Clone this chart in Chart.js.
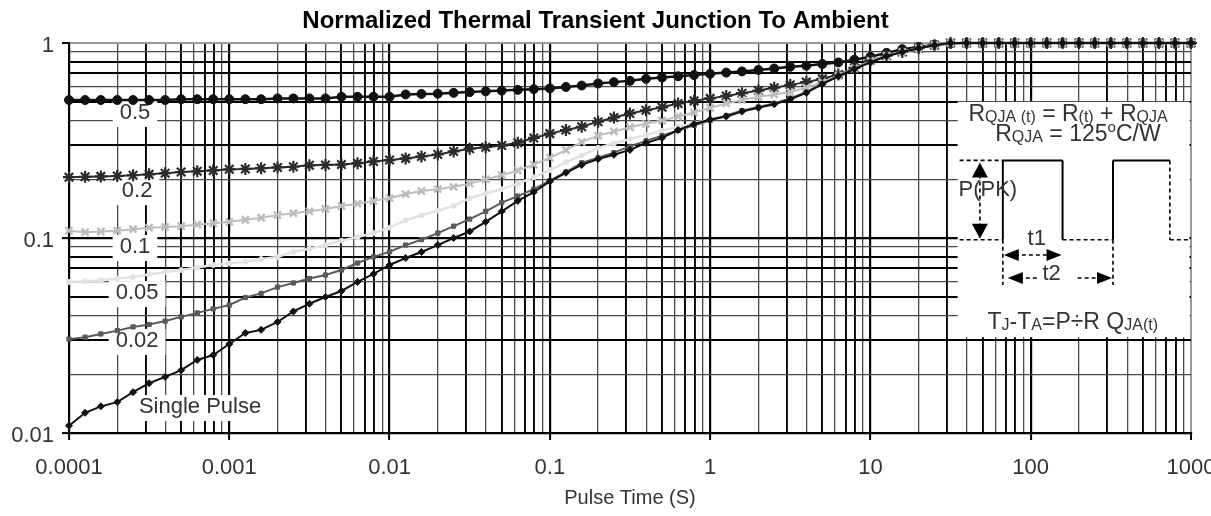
<!DOCTYPE html>
<html>
<head>
<meta charset="utf-8">
<script src="https://cdn.jsdelivr.net/npm/chart.js@4.4.1/dist/chart.umd.min.js"></script>
<style>
  html, body { margin: 0; padding: 0; background: #fff; }
</style>
</head>
<body>
<canvas id="myChart" width="1211" height="516"></canvas>
<script>
// pulse time (s), read at ~0.1 decade steps like the markers in the picture
const pulseTime = [
  0.0001, 0.000126, 0.000158, 0.0002, 0.000251, 0.000316, 0.000398, 0.000501, 0.000631, 0.000794,
  0.001, 0.00126, 0.00158, 0.002, 0.00251, 0.00316, 0.00398, 0.00501, 0.00631, 0.00794,
  0.01, 0.0126, 0.0158, 0.02, 0.0251, 0.0316, 0.0398, 0.0501, 0.0631, 0.0794,
  0.1, 0.126, 0.158, 0.2, 0.251, 0.316, 0.398, 0.501, 0.631, 0.794,
  1, 1.26, 1.58, 2, 2.51, 3.16, 3.98, 5.01, 6.31, 7.94,
  10, 12.6, 15.8, 20, 25.1, 31.6, 39.8, 50.1, 63.1, 79.4,
  100, 126, 158, 200, 251, 316, 398, 501, 631, 794,
  1000
];

const duty05 = [
  0.51, 0.51, 0.51, 0.51, 0.51, 0.51, 0.51, 0.515, 0.515, 0.515,
  0.515, 0.515, 0.515, 0.52, 0.52, 0.52, 0.52, 0.53, 0.53, 0.53,
  0.53, 0.545, 0.548, 0.55, 0.555, 0.56, 0.565, 0.57, 0.575, 0.58,
  0.585, 0.595, 0.605, 0.62, 0.63, 0.64, 0.655, 0.665, 0.675, 0.685,
  0.695, 0.705, 0.715, 0.727, 0.74, 0.755, 0.765, 0.78, 0.795, 0.82,
  0.85, 0.89, 0.93, 0.955, 0.98, 0.995, 1, 1, 1, 1,
  1, 1, 1, 1, 1, 1, 1, 1, 1, 1,
  1
];
const duty02 = [
  0.205, 0.206, 0.207, 0.208, 0.21, 0.212, 0.215, 0.218, 0.22, 0.222,
  0.225, 0.226, 0.228, 0.23, 0.232, 0.236, 0.237, 0.238, 0.242, 0.247,
  0.251, 0.256, 0.262, 0.268, 0.278, 0.287, 0.292, 0.298, 0.308, 0.326,
  0.343, 0.358, 0.372, 0.395, 0.415, 0.435, 0.452, 0.468, 0.49, 0.505,
  0.52, 0.535, 0.553, 0.57, 0.59, 0.61, 0.63, 0.655, 0.69, 0.745,
  0.815, 0.86, 0.9, 0.94, 0.975, 1, 1, 1, 1, 1,
  1, 1, 1, 1, 1, 1, 1, 1, 1, 1,
  1
];
const duty01 = [
  0.109, 0.107, 0.108, 0.109, 0.111, 0.113, 0.114, 0.115, 0.117, 0.119,
  0.121, 0.124, 0.127, 0.131, 0.134, 0.137, 0.141, 0.146, 0.15, 0.155,
  0.16, 0.168, 0.174, 0.178, 0.183, 0.19, 0.2, 0.21, 0.222, 0.238,
  0.258, 0.282, 0.31, 0.335, 0.352, 0.37, 0.385, 0.4, 0.42, 0.44,
  0.465, 0.49, 0.51, 0.53, 0.545, 0.56, 0.59, 0.63, 0.68, 0.74,
  0.81, 0.86, 0.9, 0.94, 0.975, 1, 1, 1, 1, 1,
  1, 1, 1, 1, 1, 1, 1, 1, 1, 1,
  1
];
const duty005 = [
  0.0595, 0.06, 0.0605, 0.062, 0.063, 0.065, 0.067, 0.0685, 0.0705, 0.0727,
  0.074, 0.0755, 0.078, 0.08, 0.0848, 0.088, 0.092, 0.097, 0.101, 0.106,
  0.113, 0.123, 0.131, 0.138, 0.146, 0.16, 0.169, 0.178, 0.19, 0.205,
  0.223, 0.245, 0.265, 0.29, 0.305, 0.322, 0.338, 0.355, 0.372, 0.388,
  0.405, 0.425, 0.45, 0.47, 0.49, 0.52, 0.56, 0.62, 0.68, 0.74,
  0.8, 0.86, 0.9, 0.94, 0.975, 1, 1, 1, 1, 1,
  1, 1, 1, 1, 1, 1, 1, 1, 1, 1,
  1
];
const duty002 = [
  0.0303, 0.031, 0.0322, 0.0335, 0.035, 0.036, 0.0375, 0.0394, 0.0413, 0.0433,
  0.0453, 0.0495, 0.052, 0.056, 0.0588, 0.062, 0.0646, 0.0685, 0.0744, 0.08,
  0.085, 0.092, 0.098, 0.106, 0.115, 0.125, 0.137, 0.152, 0.164, 0.178,
  0.197, 0.218, 0.243, 0.258, 0.274, 0.295, 0.315, 0.335, 0.356, 0.378,
  0.4, 0.425, 0.45, 0.47, 0.49, 0.52, 0.56, 0.62, 0.68, 0.74,
  0.8, 0.86, 0.9, 0.94, 0.975, 1, 1, 1, 1, 1,
  1, 1, 1, 1, 1, 1, 1, 1, 1, 1,
  1
];
const singlePulse = [
  0.0109, 0.0127, 0.0137, 0.0144, 0.0162, 0.018, 0.0194, 0.021, 0.0237, 0.0251,
  0.0286, 0.0326, 0.0338, 0.0371, 0.042, 0.046, 0.0498, 0.0535, 0.0595, 0.0654,
  0.0727, 0.079, 0.0848, 0.092, 0.1, 0.108, 0.121, 0.137, 0.155, 0.172,
  0.195, 0.216, 0.237, 0.254, 0.267, 0.283, 0.307, 0.326, 0.358, 0.384,
  0.405, 0.42, 0.445, 0.465, 0.485, 0.515, 0.555, 0.615, 0.675, 0.735,
  0.795, 0.855, 0.9, 0.94, 0.975, 1, 1, 1, 1, 1,
  1, 1, 1, 1, 1, 1, 1, 1, 1, 1,
  1
];

const seriesNames = ['0.5', '0.2', '0.1', '0.05', '0.02', 'Single Pulse'];
const seriesValues = [duty05, duty02, duty01, duty005, duty002, singlePulse];

const xDecades = [0.0001, 0.001, 0.01, 0.1, 1, 10, 100, 1000];
const xTickLabels = ['0.0001', '0.001', '0.01', '0.1', '1', '10', '100', '1000'];
const yDecades = [0.01, 0.1, 1];
const yTickLabels = ['0.01', '0.1', '1'];

const FONT = 'Arial, "Liberation Sans", Helvetica, sans-serif';

// look of each curve
const seriesStyles = [
  { color: '#111111', width: 2.5, point: 'circle', r: 4.5, pw: 1 },
  { color: '#2b2b2b', width: 2, point: 'star', r: 6, pw: 2.2 },
  { color: '#bdbdbd', width: 2, point: 'crossRot', r: 5, pw: 2.5 },
  { color: '#e2e2e2', width: 2.5, point: 'circle', r: 2.5, pw: 1 },
  { color: '#5a5a5a', width: 2, point: 'rect', r: 3, pw: 1 },
  { color: '#111111', width: 2, point: 'rectRot', r: 3.5, pw: 1 }
];

// where the duty cycle labels sit (data units)
const labelSpots = [
  { t: 0.000258, v: 0.443 },
  { t: 0.000266, v: 0.176 },
  { t: 0.000258, v: 0.091 },
  { t: 0.000266, v: 0.0528 },
  { t: 0.000266, v: 0.030 },
  { t: 0.000657, v: 0.01375 }
];

// inset with formulas and the pulse train (data units)
const inset = {
  left: 35, top: 0.5, bottom: 0.031,
  base: 0.098, peak: 0.25,
  rise1: 67, fall1: 158, rise2: 326, fall2: 738,
  arrowP: 48.2, textP: { t: 54, v: 0.176 },
  t1y: 0.0818, t2y: 0.0624, dropTo: 0.0574,
  t1Text: { t: 109, v: 0.099 }, t2Text: { t: 135, v: 0.0655 }
};

function isDecade(v) {
  const l = Math.log10(v);
  return Math.abs(l - Math.round(l)) < 1e-6;
}
function mult(v) {
  return Math.round(v / Math.pow(10, Math.floor(Math.log10(v) + 1e-9)));
}
function gridValues(decades) {
  let out = [];
  for (let i = 0; i < decades.length; i++) {
    out.push(decades[i]);
    if (i < decades.length - 1) {
      for (let m = 2; m <= 9; m++) out.push(+(decades[i] * m).toPrecision(3));
    }
  }
  return out;
}
function labelFor(v, decades, labels) {
  const i = decades.findIndex(d => Math.abs(d - v) / d < 1e-6);
  return i >= 0 ? labels[i] : '';
}
function gridColor(edge) {
  return c => {
    if (!c.tick) return '#000';
    const v = c.tick.value;
    if (Math.abs(v - edge) / edge < 1e-6) return '#9a9a9a';
    if (isDecade(v)) return '#000';
    return [3, 5, 7, 8].includes(mult(v)) ? '#000' : '#4a4a4a';
  };
}
function gridWidth(edge) {
  return c => {
    if (!c.tick) return 1.5;
    const v = c.tick.value;
    if (Math.abs(v - edge) / edge < 1e-6) return 2;
    if (isDecade(v)) return 2.2;
    return [3, 5, 7, 8].includes(mult(v)) ? 1.9 : 1.3;
  };
}
function tickColor(c) {
  return c.tick && isDecade(c.tick.value) ? '#000' : 'rgba(0,0,0,0)';
}

function arrowHead(ctx, x, y, dir, len, half) {
  ctx.beginPath();
  ctx.moveTo(x, y);
  if (dir === 'up') { ctx.lineTo(x - half, y + len); ctx.lineTo(x + half, y + len); }
  if (dir === 'down') { ctx.lineTo(x - half, y - len); ctx.lineTo(x + half, y - len); }
  if (dir === 'left') { ctx.lineTo(x + len, y - half); ctx.lineTo(x + len, y + half); }
  if (dir === 'right') { ctx.lineTo(x - len, y - half); ctx.lineTo(x - len, y + half); }
  ctx.closePath();
  ctx.fill();
}
function seg(ctx, x1, y1, x2, y2, dashed) {
  ctx.setLineDash(dashed ? [4, 3] : []);
  ctx.beginPath();
  ctx.moveTo(x1, y1);
  ctx.lineTo(x2, y2);
  ctx.stroke();
}
function drawRuns(ctx, runs, cx, baseY) {
  let total = 0;
  runs.forEach(r => { ctx.font = r[1] + 'px ' + FONT; total += ctx.measureText(r[0]).width; });
  let xx = cx - total / 2;
  ctx.textAlign = 'left';
  ctx.textBaseline = 'alphabetic';
  runs.forEach(r => {
    ctx.font = r[1] + 'px ' + FONT;
    ctx.fillText(r[0], xx, baseY + (r[2] || 0));
    xx += ctx.measureText(r[0]).width;
  });
}

const notes = {
  id: 'notes',
  beforeDatasetsDraw(chart) {
    const { ctx, chartArea: a, scales: { x, y } } = chart;
    ctx.save();
    // white inset on the right
    const bx = x.getPixelForValue(inset.left);
    const by = y.getPixelForValue(inset.top);
    const bb = y.getPixelForValue(inset.bottom);
    ctx.fillStyle = '#fff';
    ctx.fillRect(bx, by, a.right - 1.5 - bx, bb - by);
    // duty cycle labels with white backing
    ctx.font = '22px ' + FONT;
    ctx.textAlign = 'center';
    ctx.textBaseline = 'middle';
    labelSpots.forEach((s, i) => {
      const px = x.getPixelForValue(s.t);
      const py = y.getPixelForValue(s.v);
      const w = ctx.measureText(seriesNames[i]).width + 14;
      ctx.fillStyle = '#fff';
      ctx.fillRect(px - w / 2, py - 11, w, 26);
      ctx.fillStyle = '#333';
      ctx.fillText(seriesNames[i], px, py + 1);
    });
    ctx.restore();
  },
  afterDatasetsDraw(chart) {
    const { ctx, chartArea: a, scales: { x, y } } = chart;
    const X = v => x.getPixelForValue(v);
    const Y = v => y.getPixelForValue(v);
    ctx.save();
    ctx.fillStyle = '#333';
    drawRuns(ctx, [['R', 23], ['QJA', 16, 1], [' (t)', 16, 1], [' = R', 23], ['(t)', 16, 1], [' + R', 23], ['QJA', 16, 1]], X(171), Y(0.398));
    drawRuns(ctx, [['R', 23], ['QJA', 16, 1], [' = 125', 23], ['o', 15, -9], ['C/W', 23]], X(197), Y(0.314));
    drawRuns(ctx, [['T', 23], ['J', 16, 1], ['-T', 23], ['A', 16, 1], ['=P\u00F7R ', 23], ['Q', 23], ['JA(t)', 16, 1]], X(183), Y(0.0341));

    // pulse train
    const yb = Y(inset.base), yp = Y(inset.peak);
    const x0 = X(inset.left) + 2, r1 = X(inset.rise1), f1 = X(inset.fall1), r2 = X(inset.rise2), f2 = X(inset.fall2), xe = a.right - 2;
    ctx.strokeStyle = '#000';
    ctx.fillStyle = '#000';
    ctx.lineWidth = 1.6;
    seg(ctx, x0, yb, r1, yb, true);
    seg(ctx, x0, yp, r1, yp, true);
    ctx.lineWidth = 2;
    seg(ctx, r1, yb, r1, yp, false);
    seg(ctx, r1, yp, f1, yp, false);
    seg(ctx, f1, yp, f1, yb, false);
    ctx.lineWidth = 1.6;
    seg(ctx, f1, yb, r2, yb, true);
    ctx.lineWidth = 2;
    seg(ctx, r2, yb, r2, yp, false);
    seg(ctx, r2, yp, f2, yp, false);
    ctx.lineWidth = 1.6;
    seg(ctx, f2, yp, f2, yb, true);
    seg(ctx, f2, yb, xe, yb, true);

    // P(PK) arrow
    const xp = X(inset.arrowP);
    seg(ctx, xp, yp + 14, xp, yb - 14, true);
    ctx.setLineDash([]);
    arrowHead(ctx, xp, yp + 2, 'up', 15, 8);
    arrowHead(ctx, xp, yb - 1, 'down', 15, 8);

    // t1 / t2 arrows
    const yt1 = Y(inset.t1y), yt2 = Y(inset.t2y), yd = Y(inset.dropTo);
    const xt2 = X(inset.t2Text.t);
    seg(ctx, r1, yb, r1, yd, true);
    seg(ctx, r2, yb, r2, yd, true);
    seg(ctx, r1 + 12, yt1, f1 - 12, yt1, true);
    ctx.setLineDash([]);
    arrowHead(ctx, r1 + 1, yt1, 'left', 15, 6);
    arrowHead(ctx, f1 - 1, yt1, 'right', 15, 6);
    seg(ctx, r1 + 16, yt2, xt2 - 12, yt2, true);
    seg(ctx, xt2 + 26, yt2, r2 - 12, yt2, true);
    ctx.setLineDash([]);
    arrowHead(ctx, r1 + 5, yt2, 'left', 15, 6);
    arrowHead(ctx, r2 - 1, yt2, 'right', 15, 6);

    ctx.fillStyle = '#333';
    ctx.font = '22px ' + FONT;
    ctx.textAlign = 'center';
    ctx.textBaseline = 'middle';
    ctx.fillText('P(PK)', X(inset.textP.t), Y(inset.textP.v));
    ctx.fillText('t1', X(inset.t1Text.t), Y(inset.t1Text.v));
    ctx.fillText('t2', xt2, Y(inset.t2Text.v));
    ctx.restore();
  }
};

const datasets = seriesValues.map((vals, i) => ({
  label: seriesNames[i],
  data: vals.map((v, k) => ({ x: pulseTime[k], y: v })),
  borderColor: seriesStyles[i].color,
  backgroundColor: seriesStyles[i].color,
  borderWidth: seriesStyles[i].width,
  pointStyle: seriesStyles[i].point,
  pointRadius: seriesStyles[i].r,
  pointBorderWidth: seriesStyles[i].pw,
  pointBorderColor: seriesStyles[i].color,
  pointBackgroundColor: seriesStyles[i].color,
  tension: 0,
  clip: 10
}));
// darker curves on top, as in the picture
datasets.reverse();

const ctx = document.getElementById('myChart').getContext('2d');
const myChart = new Chart(ctx, {
  type: 'line',
  data: { datasets: datasets },
  options: {
    responsive: false,
    animation: false,
    events: [],
    layout: { padding: { left: 0, right: 20, top: 0, bottom: 0 } },
    plugins: {
      legend: { display: false },
      tooltip: { enabled: false },
      title: {
        display: true,
        text: 'Normalized Thermal Transient Junction To Ambient',
        color: '#000',
        font: { family: FONT, size: 24, weight: 'bold', lineHeight: 1.2 },
        padding: { top: 7, bottom: 7.2 }
      }
    },
    scales: {
      x: {
        type: 'logarithmic',
        min: 0.0001,
        max: 1000,
        afterBuildTicks: s => { s.ticks = gridValues(xDecades).map(v => ({ value: v })); },
        afterFit: s => { s.height = 83; s.paddingLeft = 0; s.paddingRight = 0; },
        ticks: {
          autoSkip: false, maxRotation: 0, padding: 15, color: '#333',
          font: { family: FONT, size: 22 },
          callback: v => labelFor(v, xDecades, xTickLabels)
        },
        grid: { color: gridColor(1000), lineWidth: gridWidth(1000), tickColor: tickColor, tickLength: 7, tickWidth: 2 },
        border: { color: '#000', width: 2 },
        title: {
          display: true, text: 'Pulse Time (S)', color: '#333',
          font: { family: FONT, size: 20, lineHeight: 1.2 },
          padding: { top: 0, bottom: 6 }
        }
      },
      y: {
        type: 'logarithmic',
        min: 0.01,
        max: 1,
        afterBuildTicks: s => { s.ticks = gridValues(yDecades).map(v => ({ value: v })); },
        afterFit: s => { s.width = 69; s.paddingTop = 0; s.paddingBottom = 0; },
        ticks: {
          autoSkip: false, padding: 8, color: '#333', labelOffset: 3,
          font: { family: FONT, size: 22 },
          callback: v => labelFor(v, yDecades, yTickLabels)
        },
        grid: { color: gridColor(1), lineWidth: gridWidth(1), tickColor: tickColor, tickLength: 7, tickWidth: 2 },
        border: { color: '#000', width: 2 }
      }
    }
  },
  plugins: [notes]
});
</script>
</body>
</html>
